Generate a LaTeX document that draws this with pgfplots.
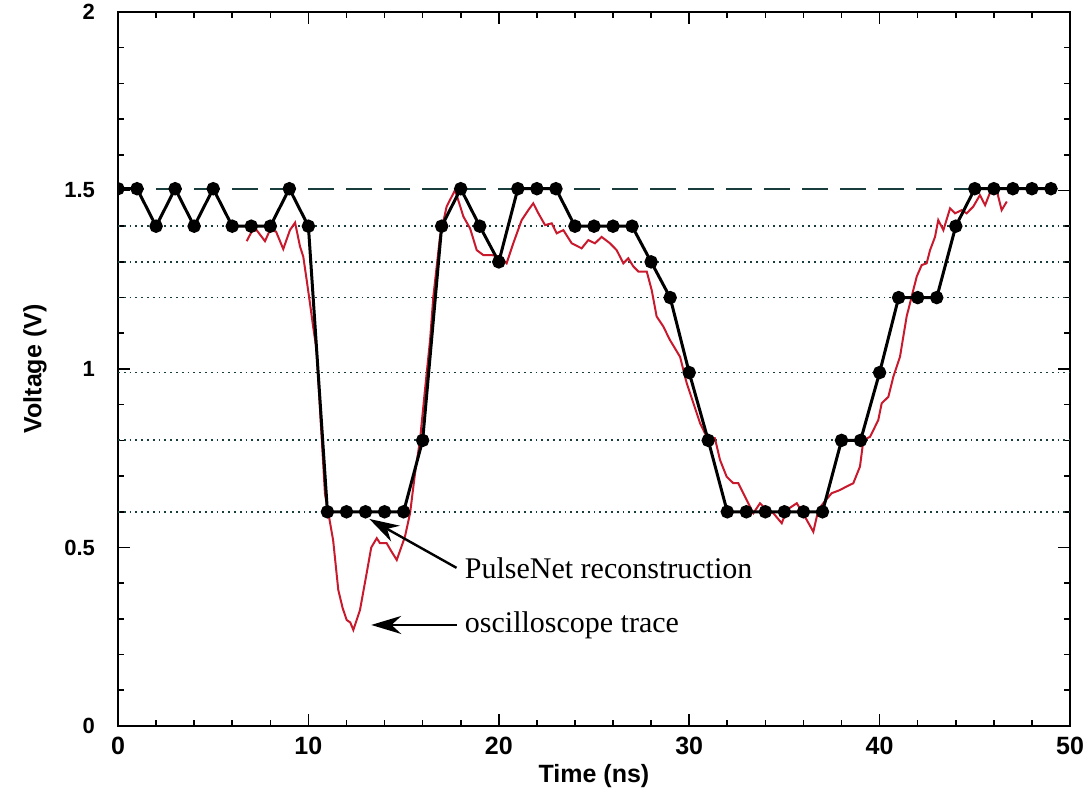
\documentclass[border=0pt]{standalone}
\usepackage{pgfplots}
\pgfplotsset{compat=1.18}
\usepackage{fontspec}
\setmainfont{Liberation Serif}
\setsansfont{Liberation Sans}
\usetikzlibrary{arrows.meta}
\definecolor{trace}{RGB}{200,25,45}
\definecolor{ref}{RGB}{25,60,60}
\begin{document}
\begin{tikzpicture}
\useasboundingbox (-59pt,-32pt) rectangle (487pt,363pt);
\begin{axis}[
  at={(0,0)}, anchor=south west,
  scale only axis, width=476pt, height=357pt,
  xmin=0, xmax=50, ymin=0, ymax=2,
  xtick={0,10,20,30,40,50}, ytick={0,0.5,1,1.5,2},
  xticklabels={0,10,20,30,40,50},
  yticklabels={0,0.5,1,1.5,2},
  minor x tick num=4, minor y tick num=4,
  tick align=inside,
  major tick length=6pt, minor tick length=3pt,
  every tick/.style={black, line width=0.8pt},
  axis line style={line width=1pt},
  yticklabel style={font=\sffamily\bfseries\fontsize{11}{13}\selectfont, xshift=-8pt},
  xticklabel style={font=\sffamily\bfseries\fontsize{12.5}{14}\selectfont, yshift=-2pt},
  xlabel={Time (ns)}, ylabel={Voltage (V)},
  label style={font=\sffamily\bfseries\fontsize{12.5}{14}\selectfont},
  xlabel style={yshift=2pt},
  ylabel style={yshift=2pt},
  clip marker paths=true,
]
\addplot[ref, dotted, line width=0.9pt, forget plot] coordinates {(0,1.4)(50,1.4)};
\addplot[ref, dotted, line width=0.9pt, forget plot] coordinates {(0,1.3)(50,1.3)};
\addplot[ref, dotted, line width=0.9pt, forget plot] coordinates {(0,1.2)(50,1.2)};
\addplot[ref, dotted, line width=0.9pt, forget plot] coordinates {(0,0.99)(50,0.99)};
\addplot[ref, dotted, line width=0.9pt, forget plot] coordinates {(0,0.8)(50,0.8)};
\addplot[ref, dotted, line width=0.9pt, forget plot] coordinates {(0,0.6)(50,0.6)};
\addplot[ref, dash pattern=on 13pt off 6pt, line width=0.9pt, forget plot] coordinates {(0,1.505)(49,1.505)};
\addplot[trace, line width=1pt] coordinates {
(6.76,1.358)(7.02,1.385)(7.28,1.389)(7.72,1.358)(7.98,1.389)(8.3,1.385)(8.68,1.336)(9.03,1.389)(9.3,1.41)(9.56,1.343)(9.73,1.315)(9.91,1.249)(10.08,1.185)(10.25,1.118)(10.43,1.053)(10.65,0.85)(10.87,0.65)(11.05,0.596)(11.3,0.52)(11.57,0.381)(11.8,0.33)(12.01,0.297)(12.2,0.29)(12.36,0.269)(12.71,0.325)(13.06,0.428)(13.3,0.5)(13.59,0.526)(13.76,0.512)(14.11,0.512)(14.35,0.49)(14.64,0.465)(15.07,0.53)(15.34,0.596)(15.6,0.708)(15.86,0.80)(16.12,0.94)(16.39,1.081)(16.56,1.202)(16.91,1.37)(17.26,1.455)(17.7,1.501)(17.87,1.473)(18.14,1.427)(18.49,1.394)(18.84,1.333)(19.19,1.319)(19.63,1.319)(20.06,1.315)(20.41,1.296)(20.76,1.352)(21.2,1.417)(21.55,1.445)(21.81,1.464)(22.08,1.436)(22.43,1.403)(22.78,1.408)(23.04,1.38)(23.39,1.389)(23.83,1.352)(24.35,1.338)(24.7,1.361)(25.05,1.352)(25.4,1.37)(25.84,1.352)(26.19,1.333)(26.54,1.296)(26.8,1.31)(27.07,1.287)(27.33,1.273)(27.77,1.273)(28.03,1.221)(28.29,1.147)(28.64,1.119)(28.99,1.081)(29.52,1.034)(29.87,0.96)(30.22,0.904)(30.57,0.848)(30.92,0.81)(31.35,0.806)(31.62,0.745)(31.97,0.698)(32.32,0.68)(32.58,0.68)(33.02,0.633)(33.37,0.596)(33.72,0.624)(34.07,0.605)(34.42,0.596)(34.86,0.568)(35.12,0.605)(35.65,0.624)(36.08,0.586)(36.52,0.544)(36.78,0.605)(37.04,0.624)(37.48,0.652)(37.92,0.661)(38.27,0.671)(38.62,0.68)(38.97,0.727)(39.15,0.801)(39.5,0.81)(39.93,0.857)(40.11,0.904)(40.46,0.922)(40.72,0.978)(41.07,1.034)(41.42,1.147)(41.68,1.202)(41.95,1.259)(42.21,1.291)(42.47,1.296)(42.65,1.333)(42.91,1.37)(43.08,1.417)(43.35,1.389)(43.7,1.45)(43.96,1.436)(44.31,1.445)(44.57,1.436)(44.92,1.455)(45.27,1.487)(45.54,1.459)(45.89,1.506)(46.15,1.501)(46.41,1.445)(46.68,1.469)
};
\addplot[black, line width=1.5pt, mark=*, mark size=2.6pt] coordinates {
(0,1.505)(1,1.505)(2,1.4)(3,1.505)(4,1.4)(5,1.505)(6,1.4)(7,1.4)(8,1.4)(9,1.505)(10,1.4)
(11,0.6)(12,0.6)(13,0.6)(14,0.6)(15,0.6)(16,0.8)(17,1.4)(18,1.505)(19,1.4)(20,1.3)
(21,1.505)(22,1.505)(23,1.505)(24,1.4)(25,1.4)(26,1.4)(27,1.4)(28,1.3)(29,1.2)(30,0.99)
(31,0.8)(32,0.6)(33,0.6)(34,0.6)(35,0.6)(36,0.6)(37,0.6)(38,0.8)(39,0.8)(40,0.99)
(41,1.2)(42,1.2)(43,1.2)(44,1.4)(45,1.505)(46,1.505)(47,1.505)(48,1.505)(49,1.505)
};
\draw[-{Stealth[length=15pt,width=9pt]}, line width=1.2pt] (axis cs:17.78,0.443) -- (axis cs:13.2,0.58);
\draw[-{Stealth[length=15pt,width=9pt]}, line width=1.2pt] (axis cs:17.78,0.283) -- (axis cs:13.3,0.283);
\node[anchor=west, font=\fontsize{15}{17}\selectfont, inner sep=0pt] at (axis cs:18.2,0.443) {PulseNet reconstruction};
\node[anchor=west, font=\fontsize{15}{17}\selectfont, inner sep=0pt] at (axis cs:18.2,0.283) {oscilloscope trace};
\end{axis}
\end{tikzpicture}
\end{document}
